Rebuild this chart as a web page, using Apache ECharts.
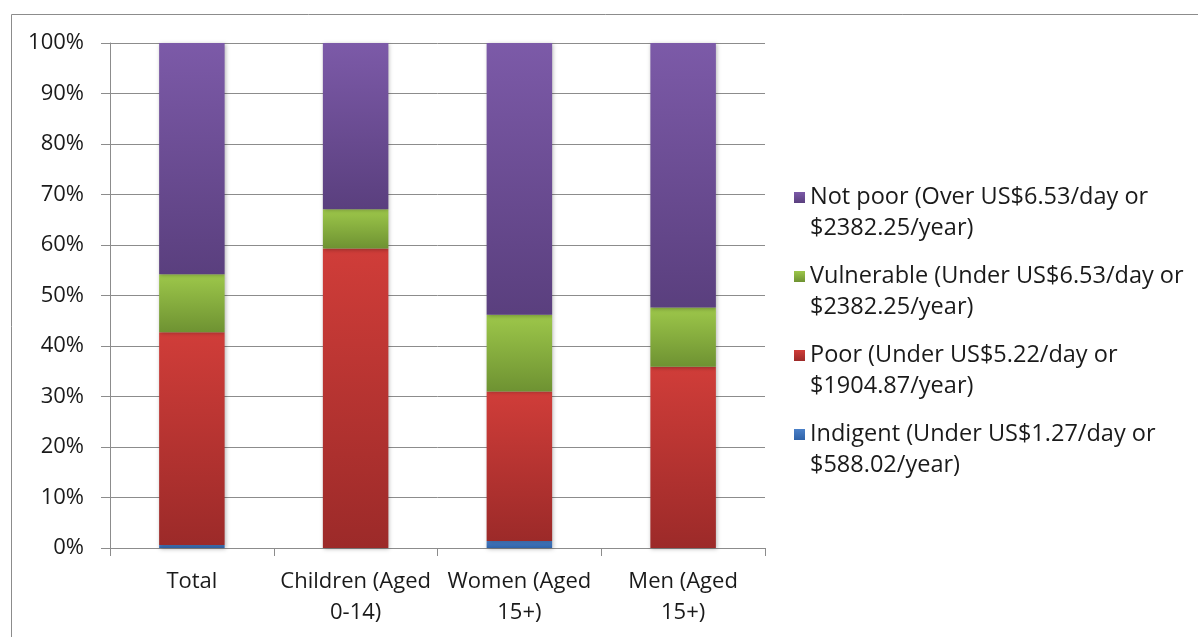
<!DOCTYPE html>
<html>
<head>
<meta charset="utf-8">
<script src="https://cdn.jsdelivr.net/npm/echarts@6/dist/echarts.min.js"></script>
<style>
  html, body { margin: 0; padding: 0; background: #fff; }
  #chart { width: 1198px; height: 637px; }
</style>
</head>
<body>
<div id="chart"></div>
<script>
// categories (x axis)
const categories = ['Total', 'Children (Aged\n0-14)', 'Women (Aged\n15+)', 'Men (Aged\n15+)'];

// shares in % (stacked bottom to top)
const indigent   = [0.6, 0,    1.4,  0];
const poor       = [42.1, 59.3, 29.6, 35.9];
const vulnerable = [11.5, 7.8,  15.2, 11.7];
const notPoor    = [45.8, 32.9, 53.8, 52.4];

const yTicks = [0, 10, 20, 30, 40, 50, 60, 70, 80, 90, 100];

const names = {
    indigent: 'Indigent (Under US$1.27/day or\n$588.02/year)',
    poor: 'Poor (Under US$5.22/day or\n$1904.87/year)',
    vulnerable: 'Vulnerable (Under US$6.53/day or\n$2382.25/year)',
    notPoor: 'Not poor (Over US$6.53/day or\n$2382.25/year)'
};

function grad(top, bottom) {
    return new echarts.graphic.LinearGradient(0, 0, 0, 1, [
        { offset: 0, color: top },
        { offset: 1, color: bottom }
    ]);
}

function barSeries(name, data, top, bottom) {
    return {
        name: name,
        type: 'bar',
        stack: 'total',
        barWidth: '40%',
        data: data,
        itemStyle: {
            color: grad(top, bottom),
            shadowBlur: 4,
            shadowColor: 'rgba(0,0,0,0.28)',
            shadowOffsetX: 1,
            shadowOffsetY: 1
        }
    };
}

const chart = echarts.init(document.getElementById('chart'));
const font = 'Open Sans, Liberation Sans, sans-serif';

chart.setOption({
    animation: false,
    textStyle: { fontFamily: font },
    graphic: [{
        type: 'rect',
        shape: { x: 11.5, y: 14.5, width: 1200, height: 640 },
        style: { fill: 'none', stroke: '#8c8c8c', lineWidth: 1 },
        silent: true
    }],
    grid: { left: 110, right: 433, top: 43, bottom: 89 },
    legend: {
        orient: 'vertical',
        left: 789,
        top: 146,
        icon: 'rect',
        itemWidth: 11,
        itemHeight: 11,
        itemGap: -14,
        data: [names.notPoor, names.vulnerable, names.poor, names.indigent],
        // leading blank line keeps the marker level with the first text line
        formatter: function (n) { return '\n' + n; },
        textStyle: {
            fontFamily: font,
            fontSize: 23.5,
            color: '#1a1a1a',
            lineHeight: 31
        }
    },
    xAxis: {
        type: 'category',
        data: categories,
        axisLine: { lineStyle: { color: '#8c8c8c' } },
        axisTick: { show: true, length: 8, lineStyle: { color: '#8c8c8c' } },
        axisLabel: {
            interval: 0,
            fontSize: 22,
            color: '#1a1a1a',
            lineHeight: 31,
            margin: 18
        }
    },
    yAxis: {
        type: 'value',
        min: 0,
        max: 100,
        interval: 10,
        axisLine: { show: true, lineStyle: { color: '#8c8c8c' } },
        axisTick: { show: true, length: 9, lineStyle: { color: '#8c8c8c' } },
        splitLine: { lineStyle: { color: '#8c8c8c' } },
        axisLabel: {
            fontSize: 22,
            color: '#1a1a1a',
            margin: 26,
            formatter: function (v) { return yTicks.indexOf(v) >= 0 ? v + '%' : ''; }
        }
    },
    series: [
        barSeries(names.indigent, indigent, '#4a80c8', '#2f62a8'),
        barSeries(names.poor, poor, '#d03d39', '#9c2a29'),
        barSeries(names.vulnerable, vulnerable, '#9dc74a', '#6e9232'),
        barSeries(names.notPoor, notPoor, '#7c5aa8', '#5a3f7e')
    ]
});
</script>
</body>
</html>
